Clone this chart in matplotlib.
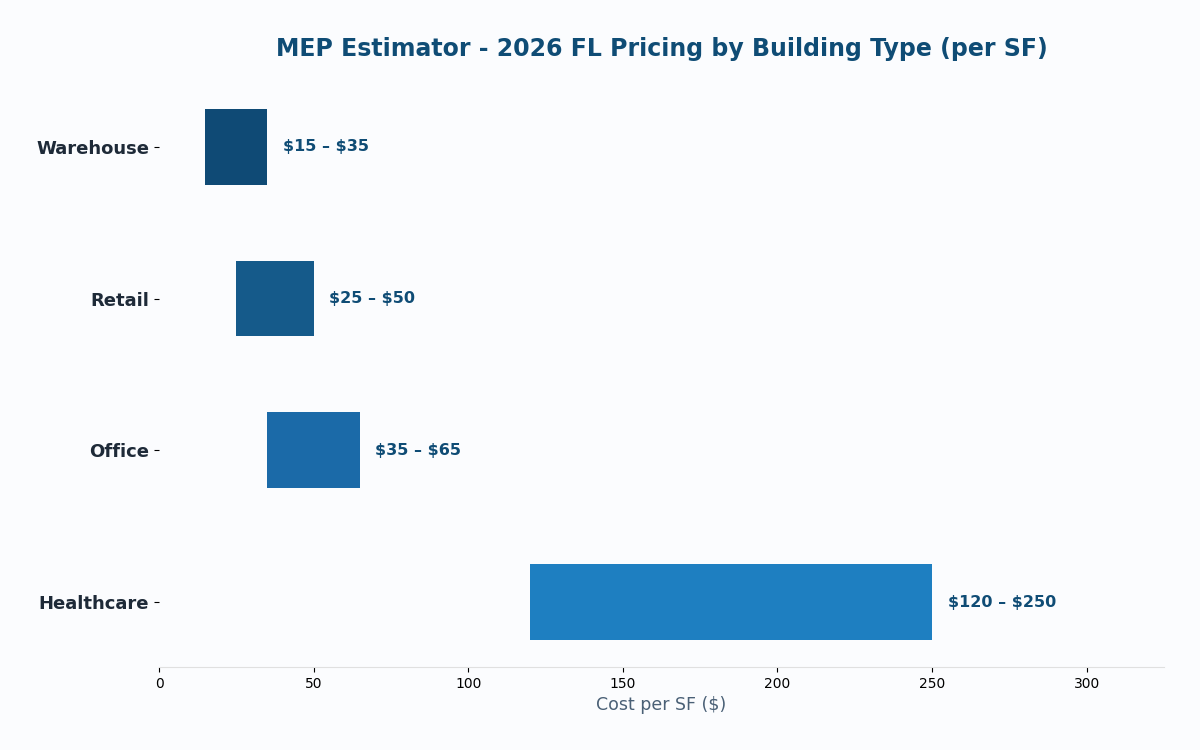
import matplotlib
matplotlib.use("Agg")
import matplotlib.pyplot as plt

categories = ["Healthcare", "Office", "Retail", "Warehouse"]
low = [120, 35, 25, 15]
high = [250, 65, 50, 35]
colors = ["#1e7fc1", "#1b6aa8", "#155a8a", "#0f4a75"]

fig = plt.figure(figsize=(12, 7.5), dpi=100)
fig.patch.set_facecolor("#fbfcfe")
ax = fig.add_axes([0.1325, 0.1107, 0.8375, 0.78])
ax.set_facecolor("#fbfcfe")

widths = [h - l for l, h in zip(low, high)]
ax.barh(categories, widths, left=low, height=0.5, color=colors)
for i, (l, h) in enumerate(zip(low, high)):
    ax.text(h + 5, i, f"\\${l} – \\${h}", va="center", ha="left",
            fontsize=11.5, fontweight="bold", color="#0f4c75")

ax.set_xlim(0, 325)
for s in ["top", "right", "left"]:
    ax.spines[s].set_visible(False)
ax.spines["bottom"].set_color("#e0e0e0")
ax.tick_params(axis="x", labelsize=10, colors="#000000")
for lbl in ax.get_yticklabels():
    lbl.set_fontsize(13)
    lbl.set_fontweight("bold")
    lbl.set_color("#1e2a38")
ax.set_xlabel("Cost per SF (\\$)", fontsize=12.5, color="#4a6076")
ax.set_title("MEP Estimator - 2026 FL Pricing by Building Type (per SF)",
             fontsize=17, fontweight="bold", color="#0f4c75", pad=19)

fig.savefig("out.png", dpi=100, facecolor=fig.get_facecolor())
